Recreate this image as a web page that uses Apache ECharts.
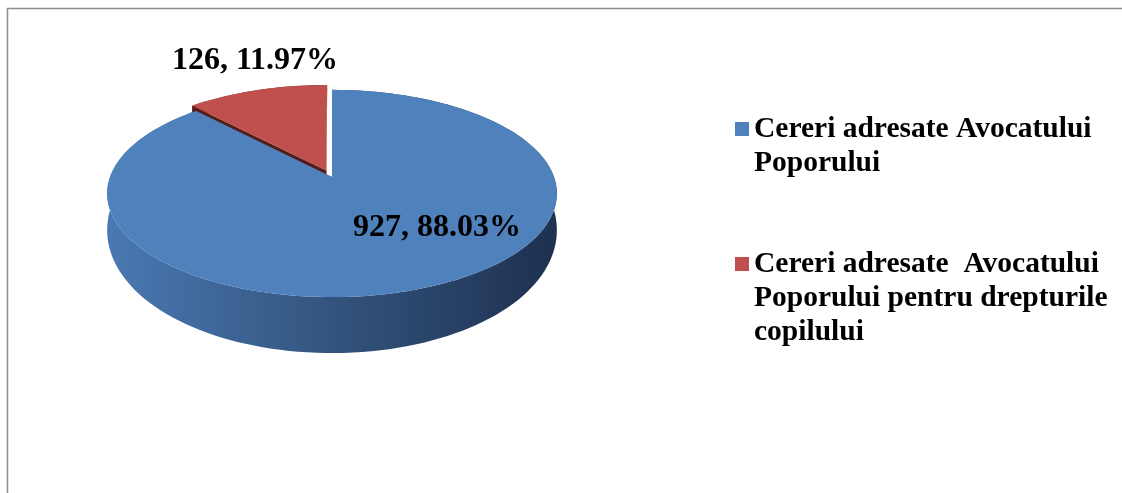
<!DOCTYPE html>
<html>
<head>
<meta charset="utf-8">
<title>Cereri adresate Avocatului Poporului</title>
<script src="https://cdn.jsdelivr.net/npm/echarts@6/dist/echarts.min.js"></script>
<style>
  html, body { margin: 0; padding: 0; background: #fff; }
  #chart { width: 1122px; height: 493px; }
</style>
</head>
<body>
<div id="chart"></div>
<script>
  // data
  const categories = [
    'Cereri adresate Avocatului Poporului',
    'Cereri adresate  Avocatului Poporului pentru drepturile copilului'
  ];
  const values = [927, 126];
  const legendLines = [
    ['Cereri adresate Avocatului', 'Poporului'],
    ['Cereri adresate  Avocatului', 'Poporului pentru drepturile', 'copilului']
  ];

  const topColors = ['#4f81bd', '#c0504d'];
  const sideColors = [
    ['#4a78b2', '#33547e', '#1e3150'],
    ['#6a2422', '#561c1a', '#4a1716']
  ];
  const FONT = '"Times New Roman", "Liberation Serif", serif';

  // 3d pie projection (perspective tilted disc)
  const CX = 332, CY = 177, SX = 222, SY = 101, PERSP = 0.159;
  const EXPLODE = [0, 0.07];
  const labelPos = [[437, 228], [255, 61]];

  const total = values.reduce((s, v) => s + v, 0);
  const starts = [];
  let acc = 0;
  values.forEach(v => { starts.push(acc / total * 360); acc += v; });

  function project(a, b) {
    const w = 1 - PERSP * b;
    return [CX + SX * a / w, CY + SY * b / w];
  }
  function depth(b) {
    return 33 + 23 * b;
  }
  function slicePoints(i) {
    const a0 = starts[i], a1 = a0 + values[i] / total * 360;
    const mid = (a0 + a1) / 2 * Math.PI / 180;
    const ea = Math.sin(mid) * EXPLODE[i], eb = -Math.cos(mid) * EXPLODE[i];
    const arc = [];
    const n = Math.max(8, Math.ceil((a1 - a0) / 2));
    for (let k = 0; k <= n; k++) {
      const t = (a0 + (a1 - a0) * k / n) * Math.PI / 180;
      arc.push([Math.sin(t) + ea, -Math.cos(t) + eb]);
    }
    return { arc: arc, center: [ea, eb] };
  }
  function down(ab) {
    const p = project(ab[0], ab[1]);
    return [p[0], p[1] + depth(ab[1])];
  }

  function renderSide(params, api) {
    const i = params.dataIndex;
    const s = slicePoints(i);
    const top = s.arc.map(ab => project(ab[0], ab[1]));
    const bottom = s.arc.map(down).reverse();
    const fill = new echarts.graphic.LinearGradient(CX - SX, 0, CX + SX, 0, [
      { offset: 0, color: sideColors[i][0] },
      { offset: 0.5, color: sideColors[i][1] },
      { offset: 1, color: sideColors[i][2] }
    ], true);
    const c = project(s.center[0], s.center[1]);
    const cd = down(s.center);
    const first = s.arc[0], last = s.arc[s.arc.length - 1];
    return {
      type: 'group',
      children: [
        { type: 'polygon', shape: { points: top.concat(bottom) }, style: { fill: fill } },
        { type: 'polygon', shape: { points: [c, project(first[0], first[1]), down(first), cd] },
          style: { fill: sideColors[i][1] } },
        { type: 'polygon', shape: { points: [c, project(last[0], last[1]), down(last), cd] },
          style: { fill: sideColors[i][1] } }
      ]
    };
  }

  function renderTop(i) {
    return function () {
      const s = slicePoints(i);
      const pts = [project(s.center[0], s.center[1])].concat(s.arc.map(ab => project(ab[0], ab[1])));
      const pct = (values[i] / total * 100).toFixed(2) + '%';
      return {
        type: 'group',
        children: [
          { type: 'polygon', shape: { points: pts }, style: { fill: topColors[i] } },
          { type: 'text', x: labelPos[i][0], y: labelPos[i][1], z2: 10,
            style: { text: values[i] + ', ' + pct, fontFamily: FONT, fontWeight: 'bold',
              fontSize: 32, fill: '#000', align: 'center', verticalAlign: 'middle' } }
        ]
      };
    };
  }

  const chart = echarts.init(document.getElementById('chart'));

  const series = [{
    name: 'side',
    type: 'custom',
    coordinateSystem: 'none',
    silent: true,
    z: 1,
    data: values,
    renderItem: renderSide
  }];
  categories.forEach((name, i) => {
    series.push({
      name: name,
      type: 'custom',
      coordinateSystem: 'none',
      silent: true,
      z: 2,
      itemStyle: { color: topColors[i] },
      data: [values[i]],
      renderItem: renderTop(i)
    });
  });

  // legend marker sits beside the first text line
  const LH = 34;
  const MARK = 14;
  const legendTops = [112, 247];
  const legends = categories.map((name, i) => {
    const h = legendLines[i].length * LH;
    const off = (LH - MARK) / 2;
    return {
      data: [{
        name: name,
        icon: 'path://M0,0M0,' + off + 'h' + MARK + 'v' + MARK + 'h-' + MARK + 'zM' + MARK + ',' + h
      }],
      left: 735,
      top: legendTops[i],
      padding: 0,
      itemWidth: MARK,
      itemHeight: h,
      selectedMode: false,
      formatter: n => legendLines[categories.indexOf(n)].join('\n'),
      textStyle: {
        fontFamily: FONT,
        fontWeight: 'bold',
        fontSize: 29.5,
        lineHeight: LH,
        color: '#000'
      }
    };
  });

  chart.setOption({
    backgroundColor: '#fff',
    animation: false,
    legend: legends,
    graphic: [{
      type: 'rect',
      shape: { x: 7.5, y: 8.5, width: 1300, height: 700 },
      style: { fill: 'none', stroke: '#8c8c8c', lineWidth: 1.5 },
      silent: true
    }],
    series: series
  });
</script>
</body>
</html>
